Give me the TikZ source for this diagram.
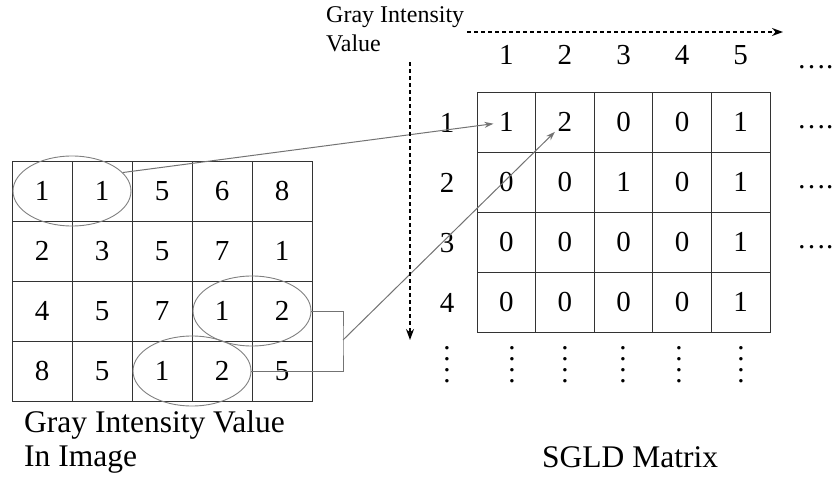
\documentclass[tikz,border=0pt]{standalone}
\usepackage{fontspec}
\setmainfont{Liberation Serif}
\usetikzlibrary{shapes.geometric,arrows.meta,calc}
\newcommand{\vdotsfour}{\vbox{\baselineskip=11pt\hbox{.}\hbox{.}\hbox{.}\hbox{.}}}

\begin{document}
\begin{tikzpicture}[x=1pt,y=-1pt]
 \tikzstyle{every node}=[font=\fontsize{29}{34}\selectfont];
 \tikzstyle{cell}=[draw=black!80,line width=1pt,minimum height=60pt,inner sep=0pt];
 \tikzstyle{ring}=[ellipse,draw=black!50,line width=0.9pt,minimum width=118pt,minimum height=70pt,inner sep=0pt];
 \tikzstyle{link}=[draw=black!55,line width=1pt,-{Stealth[length=9pt,width=6pt]}];
 \tikzstyle{dasharrow}=[draw=black,line width=1.3pt,dash pattern=on 4pt off 3pt,-{Stealth[length=11pt,width=8pt]}];
 \useasboundingbox (0,0) rectangle (835,479);

    % image grid
    \foreach \row [count=\r] in {{1,1,5,6,8},{2,3,5,7,1},{4,5,7,1,2},{8,5,1,2,5}}
      \foreach \v [count=\c] in \row
        \node[cell,minimum width=60pt] (L-\r-\c) at ({12+60*\c-30},{161+60*\r-30}) {\v};

    % SGLD matrix
    \foreach \row [count=\r] in {{1,2,0,0,1},{0,0,1,0,1},{0,0,0,0,1},{0,0,0,0,1}}
      \foreach \v [count=\c] in \row
        \node[cell,minimum width=58.6pt] (R-\r-\c) at ({477+58.6*\c-29.3},{92+60*\r-30}) {\v};

    \foreach \c in {1,...,5}
      \node (ch\c) at ({477+58.6*\c-29.3},55) {\c};
    \foreach \r in {1,...,4}
      \node (rh\r) at (447,{123+60*(\r-1)}) {\r};
    \foreach \y [count=\i] in {67,127,187,247}
      \node[anchor=west,inner sep=0pt] (dt\i) at (797,\y) {\dots.};
    \foreach \x [count=\i] in {447,512,565,623,679,741}
      \node[inner sep=0pt] (vd\i) at (\x,365) {\vdotsfour};

    % labels
    \node[anchor=north west,align=left,inner sep=0pt,font=\fontsize{24}{29}\selectfont] (gv) at (326,6) {Gray Intensity\\Value};
    \node[anchor=north west,align=left,inner sep=0pt,font=\fontsize{31.5}{34}\selectfont] (gl) at (24,410) {Gray Intensity Value\\In Image};
    \node[anchor=base west,inner sep=0pt,font=\fontsize{31.5}{34}\selectfont] (sg) at (542,467) {SGLD Matrix};

    % pairs
    \node[ring] (e1) at ($(L-1-1)!0.5!(L-1-2)$) {};
    \node[ring] (e2) at ($(L-3-4)!0.5!(L-3-5)$) {};
    \node[ring] (e3) at ($(L-4-3)!0.5!(L-4-4)$) {};

    \coordinate (brk) at (343,340);
    \draw[draw=black!55,line width=1pt] (e2.east) -| (brk) |- (e3.east);
    \draw[link,shorten >=13pt] (e1.20) -- (R-1-1.center);
    \draw[link,shorten >=14pt] (brk) -- (R-1-2.center);

    % axes
    \coordinate (hx0) at (467,32);
    \coordinate (hx1) at (783,32);
    \coordinate (vy0) at (410,62);
    \coordinate (vy1) at (410,340);
    \draw[dasharrow] (hx0) -- (hx1);
    \draw[dasharrow] (vy0) -- (vy1);
\end{tikzpicture}
\end{document}
